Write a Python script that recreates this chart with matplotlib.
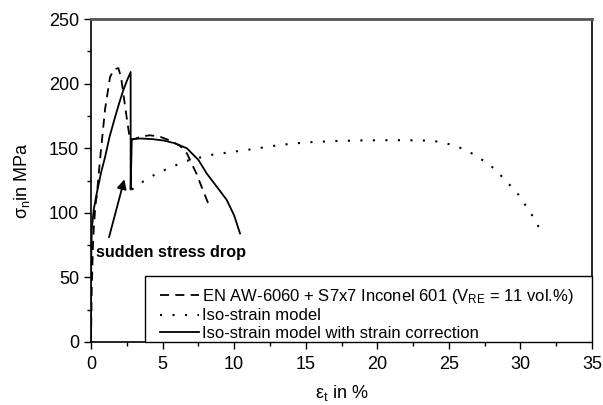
import matplotlib
matplotlib.use("Agg")
import matplotlib.pyplot as plt
from matplotlib.ticker import MultipleLocator
from matplotlib.patches import Rectangle

plt.rcParams['font.family'] = ['Liberation Sans', 'DejaVu Sans']
plt.rcParams['mathtext.fontset'] = 'custom'
plt.rcParams['mathtext.rm'] = 'Liberation Sans'
plt.rcParams['mathtext.it'] = 'Liberation Sans'

# Experimental curve (dashed)
exp_strain = [0, 0.05, 0.15, 0.3, 0.4, 0.63, 0.98, 1.33, 1.6, 1.91, 2.1, 2.26, 2.49, 2.73,
              3.0, 3.5, 4.1, 4.8, 5.5, 6.2, 6.7, 7.38, 7.8, 8.2]
exp_stress = [0, 40, 80, 105, 113, 141, 180, 205, 211, 212, 205, 192, 174, 156,
              157, 159, 160, 159, 156, 152, 146, 130, 118, 107]

# Iso-strain model (dotted)
iso_strain = [2.85, 4.0, 5.5, 6.9, 8.5, 11.1, 13.2, 15.0, 17.0, 18.8, 20.5, 22.0, 23.9,
              25.3, 26.3, 27.2, 28.2, 29.05, 29.8, 30.4, 31.0, 31.45]
iso_stress = [118, 127, 135, 141, 145, 149, 152.5, 154.5, 155.5, 156, 156.2, 156.2, 155.8,
              152.5, 148, 142, 134, 124, 115, 105, 95, 85]

# Iso-strain model with strain correction (solid)
cor_strain = [0, 0.01, 0.05, 0.2, 0.4, 0.7, 0.98, 1.3, 1.68, 2.0, 2.26, 2.5, 2.77, 2.77,
              2.85, 3.5, 4.3, 5.05, 5.8, 6.69, 7.5, 8.08, 8.8, 9.48, 10.0, 10.41]
cor_stress = [0, 60, 87, 103, 115, 131, 143, 159, 174, 186, 195, 202, 209, 118,
              157, 157.5, 157, 156, 154, 150, 141, 130.5, 120, 110, 98, 84]

labels = ["EN AW-6060 + S7x7 Inconel 601 (V$_{\\mathrm{RE}}$ = 11 vol.%)",
          "Iso-strain model",
          "Iso-strain model with strain correction"]

fig = plt.figure(figsize=(6.03, 4.05), dpi=100)
ax = fig.add_axes([91/603, 1 - 342/405, 501/603, 323/405])

ax.plot(exp_strain, exp_stress, color='black', lw=1.3, ls=(0, (5, 3.5)), label=labels[0])
ax.plot(iso_strain, iso_stress, color='black', lw=1.5, ls=(0, (1, 5)), label=labels[1])
ax.plot(cor_strain, cor_stress, color='black', lw=1.3, ls='-', label=labels[2])

ax.set_xlim(0, 35)
ax.set_ylim(0, 250)
ax.xaxis.set_major_locator(MultipleLocator(5))
ax.xaxis.set_minor_locator(MultipleLocator(2.5))
ax.yaxis.set_major_locator(MultipleLocator(50))
ax.yaxis.set_minor_locator(MultipleLocator(25))
ax.tick_params(which='both', direction='out', top=False, right=False, labelsize=13, width=1)
ax.tick_params(which='major', length=5)
ax.tick_params(which='minor', length=3)
ax.tick_params(axis='x', which='major', pad=5)
ax.tick_params(axis='y', which='major', pad=3.5)
for s in ax.spines.values():
    s.set_linewidth(1.2)
ax.spines['top'].set_color('#555555')
ax.spines['top'].set_linewidth(2.0)

ax.set_xlabel("ε$_{\\mathrm{t}}$ in %", fontsize=13, labelpad=7)
ax.set_ylabel("σ$_{\\mathrm{n}}$in MPa", fontsize=13, labelpad=12)

ax.annotate("", xy=(2.38, 128), xytext=(1.21, 79),
            arrowprops=dict(arrowstyle='-|>', color='black', lw=1.3, mutation_scale=14))
ax.text(0.35, 69.0, "sudden stress drop", fontsize=11.7, fontweight='bold',
        ha='left', va='center')

# legend frame spanning to the axes corner
fx0 = (145 - 91) / 501
fh = (342 - 276) / 323
ax.add_patch(Rectangle((fx0, 0), 1 - fx0, fh, transform=ax.transAxes,
                       facecolor='white', edgecolor='black', lw=1.0, zorder=4,
                       clip_on=False))
fs = 12
bp = 0.25
lx0 = (160 - 91 - bp * fs * 100 / 72) / 501
leg = ax.legend(loc='lower left', bbox_to_anchor=(lx0, -3 / 323), borderaxespad=0,
                frameon=False, fontsize=fs, handlelength=2.35, handletextpad=0.18,
                labelspacing=0.15, borderpad=bp)
leg.set_zorder(5)

fig.savefig("out.png", dpi=100)
